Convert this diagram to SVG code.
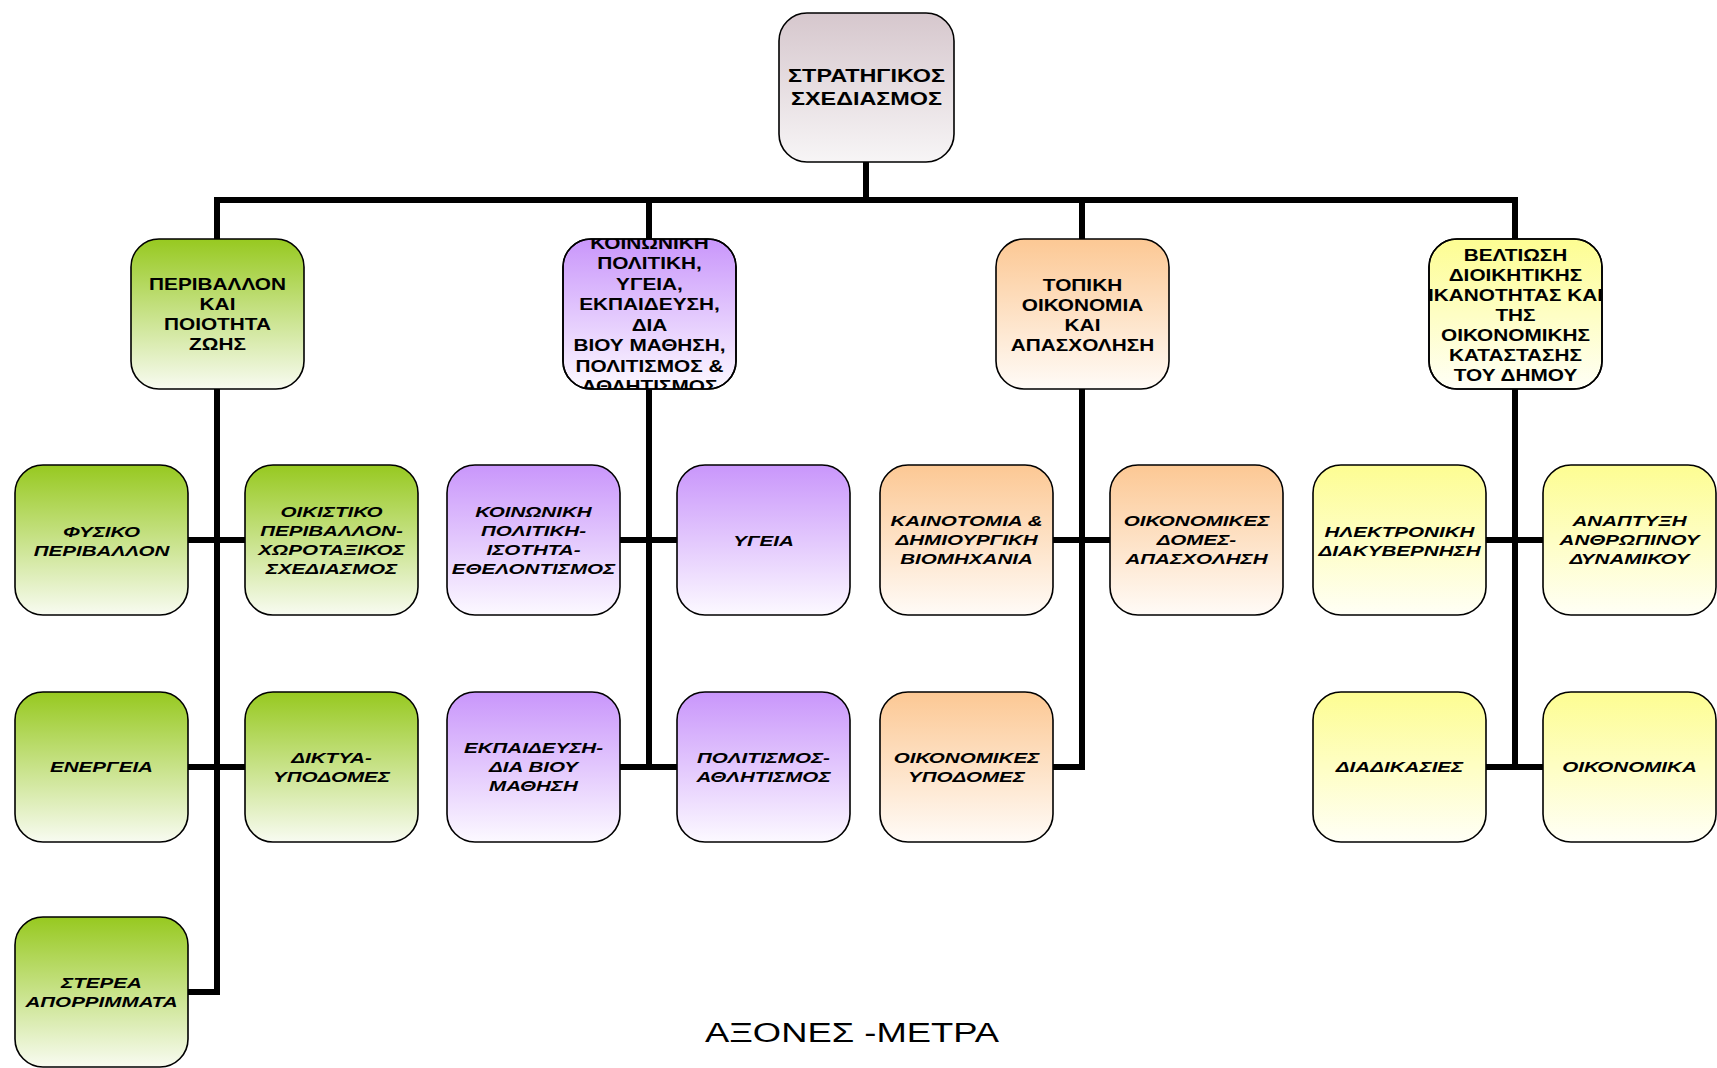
<svg xmlns="http://www.w3.org/2000/svg" width="1717" height="1068" viewBox="0 0 1717 1068">
<style>
.box{stroke:#000;stroke-width:1.6}
.t{font-family:"Liberation Sans",Arial,sans-serif;font-weight:bold;text-anchor:middle;fill:#000}
.t1{font-size:18px}
.t2{font-size:16px}
.t3{font-size:15.5px;font-style:italic}
.title{font-family:"Liberation Sans",Arial,sans-serif;font-size:28px;text-anchor:middle;fill:#000}
.conn{stroke:#000;stroke-width:6;fill:none;stroke-linejoin:miter;stroke-linecap:butt}
</style>
<defs>
<linearGradient id="gRoot" x1="0" y1="0" x2="0" y2="1"><stop offset="0" stop-color="#d6c7cd"/><stop offset="1" stop-color="#f7f5f6"/></linearGradient>
<linearGradient id="gGreen" x1="0" y1="0" x2="0" y2="1"><stop offset="0" stop-color="#97c920"/><stop offset="1" stop-color="#f8fbf1"/></linearGradient>
<linearGradient id="gPurple" x1="0" y1="0" x2="0" y2="1"><stop offset="0" stop-color="#c996fb"/><stop offset="1" stop-color="#fcf9ff"/></linearGradient>
<linearGradient id="gOrange" x1="0" y1="0" x2="0" y2="1"><stop offset="0" stop-color="#fcc894"/><stop offset="1" stop-color="#fffbf7"/></linearGradient>
<linearGradient id="gYellow" x1="0" y1="0" x2="0" y2="1"><stop offset="0" stop-color="#fdfd92"/><stop offset="1" stop-color="#fffff6"/></linearGradient>
<clipPath id="cB"><rect x="563" y="239" width="173" height="150"/></clipPath>
<clipPath id="cD"><rect x="1429" y="239" width="173" height="150"/></clipPath>
</defs>
<rect width="1717" height="1068" fill="#fff"/>

<g id="connectors">
<path class="conn" d="M866 162 V200"/>
<path class="conn" d="M217 239 V200 H1515 V239"/>
<path class="conn" d="M649 200 V239"/>
<path class="conn" d="M1082 200 V239"/>
<path class="conn" d="M217 389 V992 H188"/>
<path class="conn" d="M188 540 H245"/>
<path class="conn" d="M188 767 H245"/>
<path class="conn" d="M649 389 V767"/>
<path class="conn" d="M620 540 H677"/>
<path class="conn" d="M620 767 H677"/>
<path class="conn" d="M1082 389 V767 H1053"/>
<path class="conn" d="M1053 540 H1110"/>
<path class="conn" d="M1515 389 V767"/>
<path class="conn" d="M1486 540 H1543"/>
<path class="conn" d="M1486 767 H1543"/>
</g>

<g id="root">
<rect class="box" x="779" y="13" width="175" height="149" rx="28" fill="url(#gRoot)"/>
<text class="t t1" transform="translate(866.5,0) scale(1.3,1)"><tspan x="0" y="82">ΣΤΡΑΤΗΓΙΚΟΣ</tspan><tspan x="0" y="105">ΣΧΕΔΙΑΣΜΟΣ</tspan></text>
</g>

<g id="axis-perivallon">
<rect class="box" x="131" y="239" width="173" height="150" rx="28" fill="url(#gGreen)"/>
<text class="t t2" transform="translate(217.5,0) scale(1.3,1)"><tspan x="0" y="290">ΠΕΡΙΒΑΛΛΟΝ</tspan><tspan x="0" y="310">ΚΑΙ</tspan><tspan x="0" y="330">ΠΟΙΟΤΗΤΑ</tspan><tspan x="0" y="350">ΖΩΗΣ</tspan></text>
</g>

<g id="axis-koinoniki">
<rect class="box" x="563" y="239" width="173" height="150" rx="28" fill="url(#gPurple)"/>
<g clip-path="url(#cB)">
<text class="t t2" transform="translate(649.5,0) scale(1.3,1)"><tspan x="0" y="249">ΚΟΙΝΩΝΙΚΗ</tspan><tspan x="0" y="269.5">ΠΟΛΙΤΙΚΗ,</tspan><tspan x="0" y="290">ΥΓΕΙΑ,</tspan><tspan x="0" y="310.5">ΕΚΠΑΙΔΕΥΣΗ,</tspan><tspan x="0" y="331">ΔΙΑ</tspan><tspan x="0" y="351.5">ΒΙΟΥ ΜΑΘΗΣΗ,</tspan><tspan x="0" y="372">ΠΟΛΙΤΙΣΜΟΣ &amp;</tspan><tspan x="0" y="392.5">ΑΘΛΗΤΙΣΜΟΣ</tspan></text>
</g>
<rect x="563" y="239" width="173" height="150" rx="28" fill="none" stroke="#000" stroke-width="1.6"/>
</g>

<g id="axis-oikonomia">
<rect class="box" x="996" y="239" width="173" height="150" rx="28" fill="url(#gOrange)"/>
<text class="t t2" transform="translate(1082.5,0) scale(1.3,1)"><tspan x="0" y="291">ΤΟΠΙΚΗ</tspan><tspan x="0" y="311">ΟΙΚΟΝΟΜΙΑ</tspan><tspan x="0" y="331">ΚΑΙ</tspan><tspan x="0" y="351">ΑΠΑΣΧΟΛΗΣΗ</tspan></text>
</g>

<g id="axis-dioikisi">
<rect class="box" x="1429" y="239" width="173" height="150" rx="28" fill="url(#gYellow)"/>
<g clip-path="url(#cD)">
<text class="t t2" transform="translate(1515.5,0) scale(1.3,1)"><tspan x="0" y="261">ΒΕΛΤΙΩΣΗ</tspan><tspan x="0" y="281">ΔΙΟΙΚΗΤΙΚΗΣ</tspan><tspan x="0" y="301">ΙΚΑΝΟΤΗΤΑΣ ΚΑΙ</tspan><tspan x="0" y="321">ΤΗΣ</tspan><tspan x="0" y="341">ΟΙΚΟΝΟΜΙΚΗΣ</tspan><tspan x="0" y="361">ΚΑΤΑΣΤΑΣΗΣ</tspan><tspan x="0" y="381">ΤΟΥ ΔΗΜΟΥ</tspan></text>
</g>
<rect x="1429" y="239" width="173" height="150" rx="28" fill="none" stroke="#000" stroke-width="1.6"/>
</g>

<g id="fysiko">
<rect class="box" x="15" y="465" width="173" height="150" rx="28" fill="url(#gGreen)"/>
<text class="t t3" transform="translate(101.5,0) scale(1.33,1)"><tspan x="0" y="537">ΦΥΣΙΚΟ</tspan><tspan x="0" y="556">ΠΕΡΙΒΑΛΛΟΝ</tspan></text>
</g>
<g id="oikistiko">
<rect class="box" x="245" y="465" width="173" height="150" rx="28" fill="url(#gGreen)"/>
<text class="t t3" transform="translate(331.5,0) scale(1.33,1)"><tspan x="0" y="517">ΟΙΚΙΣΤΙΚΟ</tspan><tspan x="0" y="536">ΠΕΡΙΒΑΛΛΟΝ-</tspan><tspan x="0" y="555">ΧΩΡΟΤΑΞΙΚΟΣ</tspan><tspan x="0" y="574">ΣΧΕΔΙΑΣΜΟΣ</tspan></text>
</g>
<g id="energeia">
<rect class="box" x="15" y="692" width="173" height="150" rx="28" fill="url(#gGreen)"/>
<text class="t t3" transform="translate(101.5,0) scale(1.33,1)"><tspan x="0" y="772">ΕΝΕΡΓΕΙΑ</tspan></text>
</g>
<g id="diktya">
<rect class="box" x="245" y="692" width="173" height="150" rx="28" fill="url(#gGreen)"/>
<text class="t t3" transform="translate(331.5,0) scale(1.33,1)"><tspan x="0" y="763">ΔΙΚΤΥΑ-</tspan><tspan x="0" y="782">ΥΠΟΔΟΜΕΣ</tspan></text>
</g>
<g id="sterea">
<rect class="box" x="15" y="917" width="173" height="150" rx="28" fill="url(#gGreen)"/>
<text class="t t3" transform="translate(101.5,0) scale(1.33,1)"><tspan x="0" y="988">ΣΤΕΡΕΑ</tspan><tspan x="0" y="1007">ΑΠΟΡΡΙΜΜΑΤΑ</tspan></text>
</g>

<g id="koinoniki-politiki">
<rect class="box" x="447" y="465" width="173" height="150" rx="28" fill="url(#gPurple)"/>
<text class="t t3" transform="translate(533.5,0) scale(1.33,1)"><tspan x="0" y="517">ΚΟΙΝΩΝΙΚΗ</tspan><tspan x="0" y="536">ΠΟΛΙΤΙΚΗ-</tspan><tspan x="0" y="555">ΙΣΟΤΗΤΑ-</tspan><tspan x="0" y="574">ΕΘΕΛΟΝΤΙΣΜΟΣ</tspan></text>
</g>
<g id="ygeia">
<rect class="box" x="677" y="465" width="173" height="150" rx="28" fill="url(#gPurple)"/>
<text class="t t3" transform="translate(763.5,0) scale(1.33,1)"><tspan x="0" y="546">ΥΓΕΙΑ</tspan></text>
</g>
<g id="ekpaideysi">
<rect class="box" x="447" y="692" width="173" height="150" rx="28" fill="url(#gPurple)"/>
<text class="t t3" transform="translate(533.5,0) scale(1.33,1)"><tspan x="0" y="753">ΕΚΠΑΙΔΕΥΣΗ-</tspan><tspan x="0" y="772">ΔΙΑ ΒΙΟΥ</tspan><tspan x="0" y="791">ΜΑΘΗΣΗ</tspan></text>
</g>
<g id="politismos">
<rect class="box" x="677" y="692" width="173" height="150" rx="28" fill="url(#gPurple)"/>
<text class="t t3" transform="translate(763.5,0) scale(1.33,1)"><tspan x="0" y="763">ΠΟΛΙΤΙΣΜΟΣ-</tspan><tspan x="0" y="782">ΑΘΛΗΤΙΣΜΟΣ</tspan></text>
</g>

<g id="kainotomia">
<rect class="box" x="880" y="465" width="173" height="150" rx="28" fill="url(#gOrange)"/>
<text class="t t3" transform="translate(966.5,0) scale(1.33,1)"><tspan x="0" y="526">ΚΑΙΝΟΤΟΜΙΑ &amp;</tspan><tspan x="0" y="545">ΔΗΜΙΟΥΡΓΙΚΗ</tspan><tspan x="0" y="564">ΒΙΟΜΗΧΑΝΙΑ</tspan></text>
</g>
<g id="oikonomikes-domes">
<rect class="box" x="1110" y="465" width="173" height="150" rx="28" fill="url(#gOrange)"/>
<text class="t t3" transform="translate(1196.5,0) scale(1.33,1)"><tspan x="0" y="526">ΟΙΚΟΝΟΜΙΚΕΣ</tspan><tspan x="0" y="545">ΔΟΜΕΣ-</tspan><tspan x="0" y="564">ΑΠΑΣΧΟΛΗΣΗ</tspan></text>
</g>
<g id="oikonomikes-ypodomes">
<rect class="box" x="880" y="692" width="173" height="150" rx="28" fill="url(#gOrange)"/>
<text class="t t3" transform="translate(966.5,0) scale(1.33,1)"><tspan x="0" y="763">ΟΙΚΟΝΟΜΙΚΕΣ</tspan><tspan x="0" y="782">ΥΠΟΔΟΜΕΣ</tspan></text>
</g>

<g id="ilektroniki">
<rect class="box" x="1313" y="465" width="173" height="150" rx="28" fill="url(#gYellow)"/>
<text class="t t3" transform="translate(1399.5,0) scale(1.33,1)"><tspan x="0" y="537">ΗΛΕΚΤΡΟΝΙΚΗ</tspan><tspan x="0" y="556">ΔΙΑΚΥΒΕΡΝΗΣΗ</tspan></text>
</g>
<g id="anaptyxi">
<rect class="box" x="1543" y="465" width="173" height="150" rx="28" fill="url(#gYellow)"/>
<text class="t t3" transform="translate(1629.5,0) scale(1.33,1)"><tspan x="0" y="526">ΑΝΑΠΤΥΞΗ</tspan><tspan x="0" y="545">ΑΝΘΡΩΠΙΝΟΥ</tspan><tspan x="0" y="564">ΔΥΝΑΜΙΚΟΥ</tspan></text>
</g>
<g id="diadikasies">
<rect class="box" x="1313" y="692" width="173" height="150" rx="28" fill="url(#gYellow)"/>
<text class="t t3" transform="translate(1399.5,0) scale(1.33,1)"><tspan x="0" y="772">ΔΙΑΔΙΚΑΣΙΕΣ</tspan></text>
</g>
<g id="oikonomika">
<rect class="box" x="1543" y="692" width="173" height="150" rx="28" fill="url(#gYellow)"/>
<text class="t t3" transform="translate(1629.5,0) scale(1.33,1)"><tspan x="0" y="772">ΟΙΚΟΝΟΜΙΚΑ</tspan></text>
</g>

<text class="title" transform="translate(852,0) scale(1.3,1)" x="0" y="1042">ΑΞΟΝΕΣ -ΜΕΤΡΑ</text>
</svg>
